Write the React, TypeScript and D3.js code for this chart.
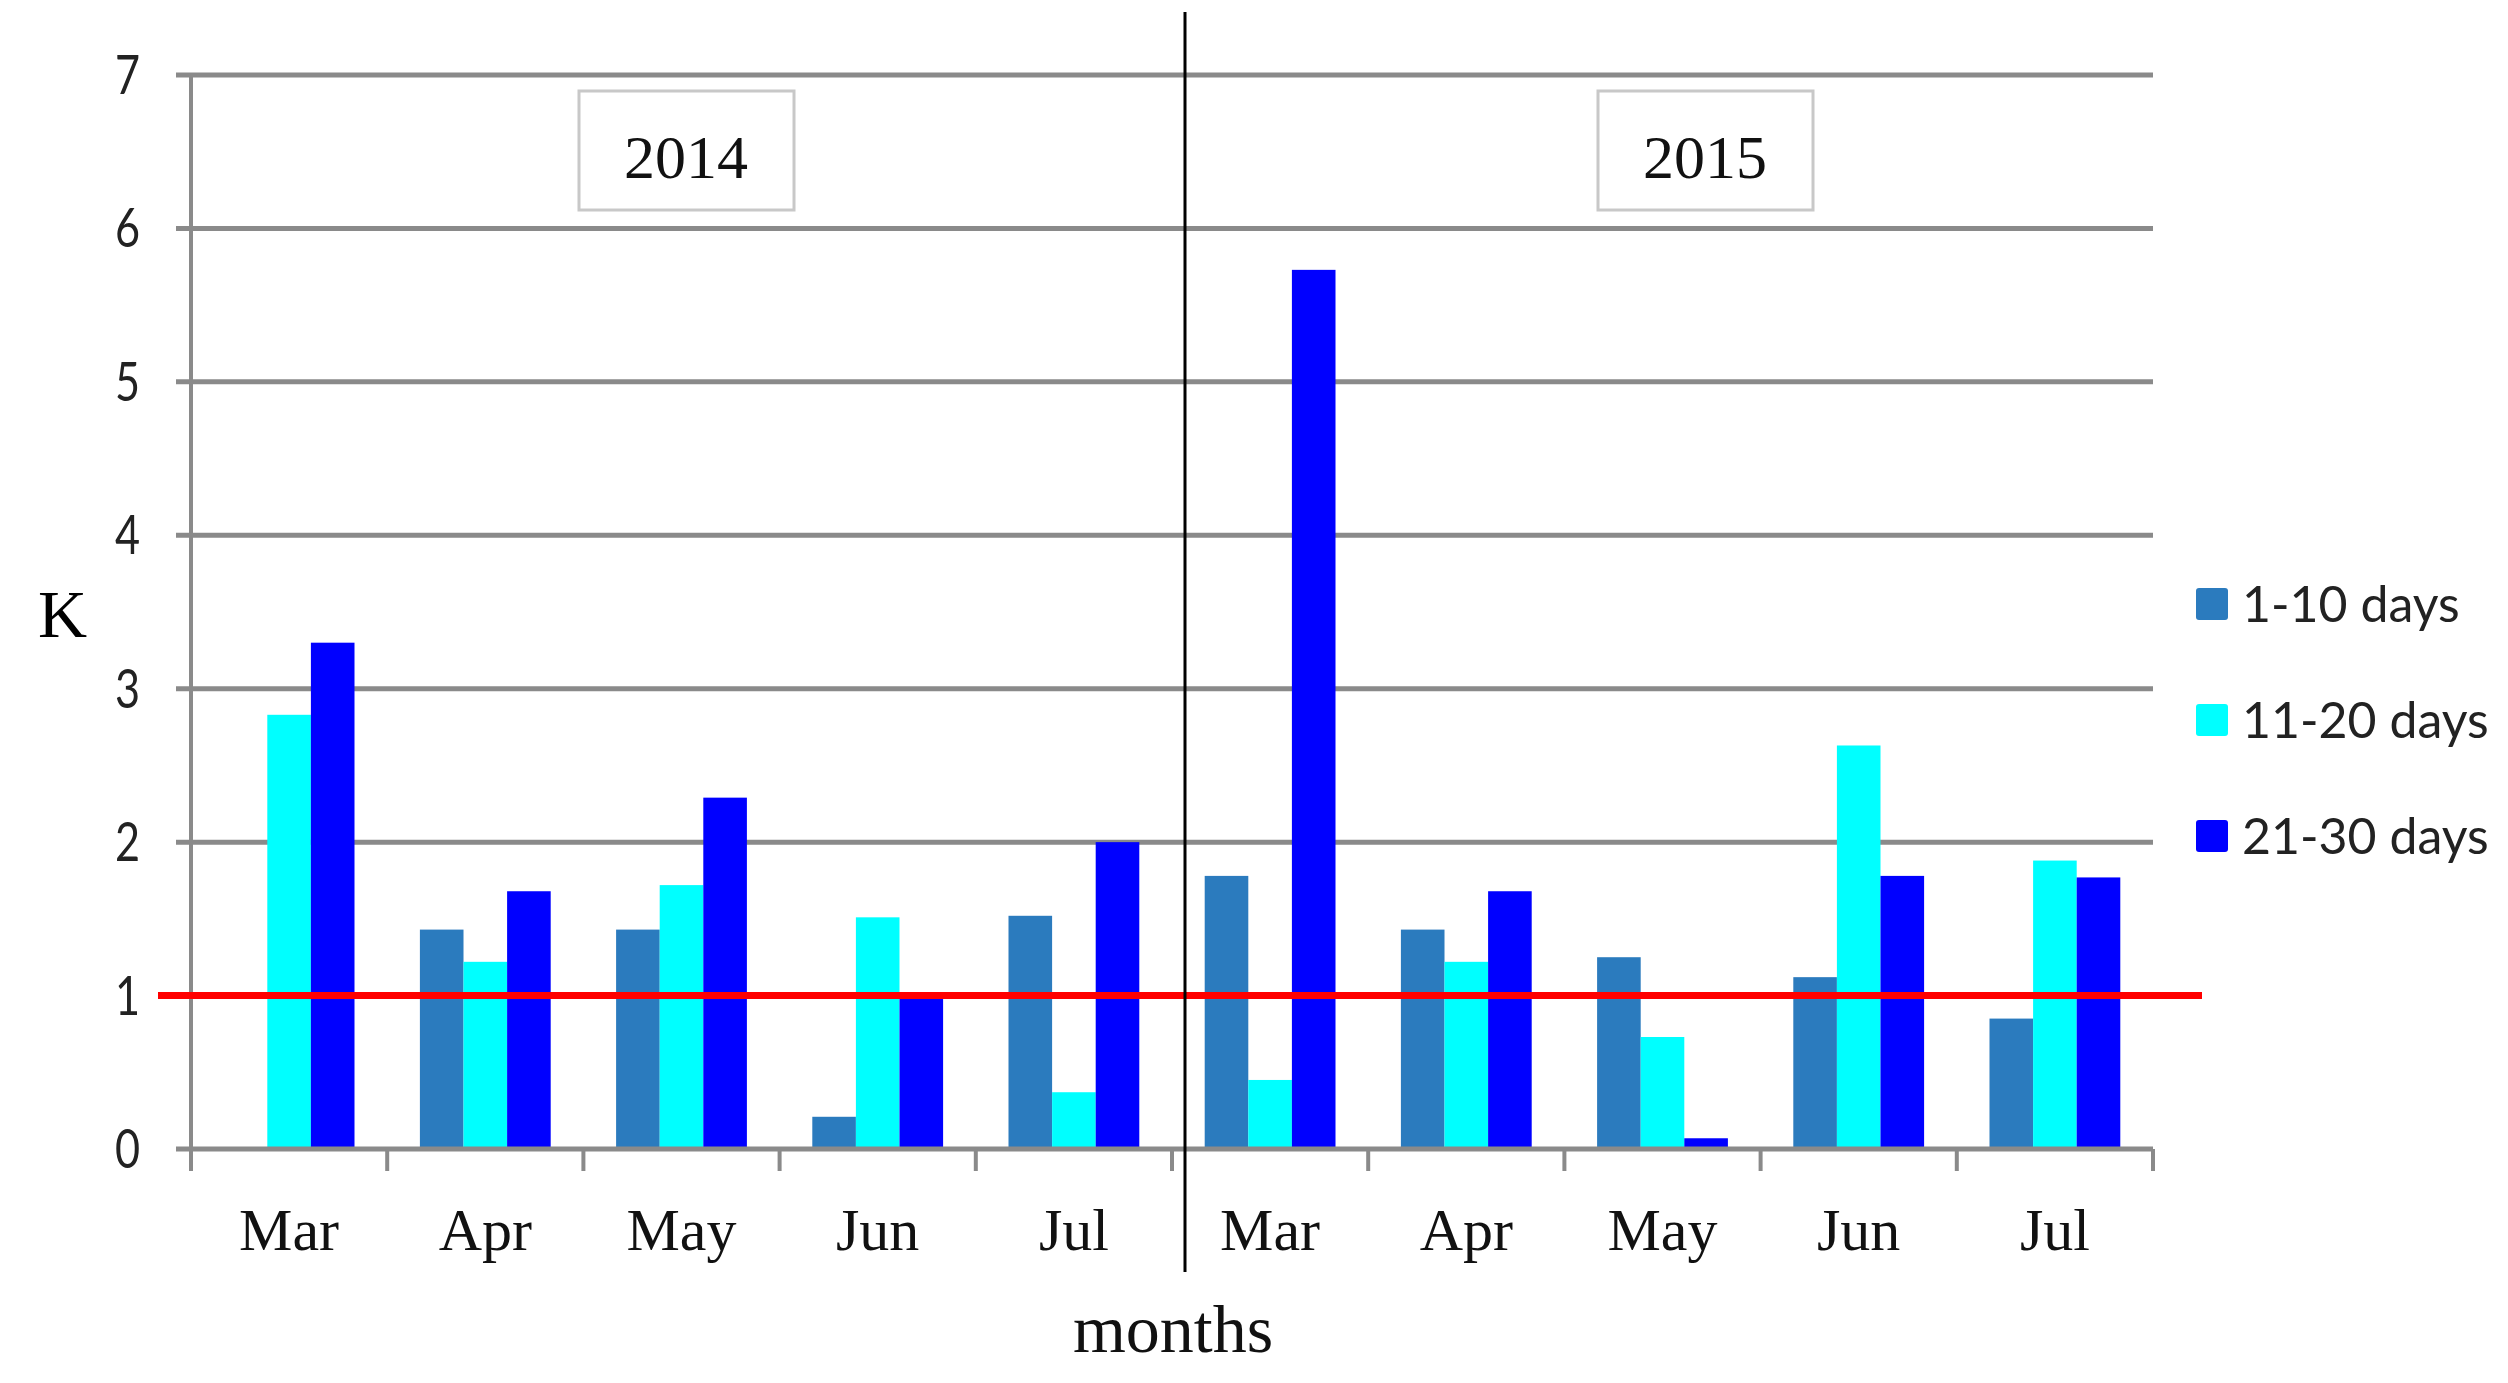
import React, { useEffect, useRef } from 'react';
import * as d3 from 'd3';

const years = ['2014', '2015'];
const months = ['Mar', 'Apr', 'May', 'Jun', 'Jul'];
const seriesNames = ['1-10 days', '11-20 days', '21-30 days'];
const seriesColors = ['#2B7BBE', '#00FFFF', '#0000FF'];
// one value per month, 2014 Mar..Jul then 2015 Mar..Jul
const days1to10 = [0, 1.43, 1.43, 0.21, 1.52, 1.78, 1.43, 1.25, 1.12, 0.85];
const days11to20 = [2.83, 1.22, 1.72, 1.51, 0.37, 0.45, 1.22, 0.73, 2.63, 1.88];
const days21to30 = [3.3, 1.68, 2.29, 0.98, 2.0, 5.73, 1.68, 0.07, 1.78, 1.77];
const yTicks = [0, 1, 2, 3, 4, 5, 6, 7];
const threshold = 1;

const W = 2508;
const H = 1383;
const left = 191;
const right = 2153;
const top = 75;
const bottom = 1149;
const serif = '"Liberation Serif", "Times New Roman", serif';
const sans = 'Lato, "Open Sans", sans-serif';
const grey = '#8a8a8a';

const App = () => {
  const ref = useRef<SVGSVGElement>(null);

  useEffect(() => {
    const svg = d3.select(ref.current);
    svg.selectAll('*').remove();

    const categories = years.flatMap(yr => months.map(m => `${yr}-${m}`));
    const values = [days1to10, days11to20, days21to30];

    const x0 = d3
      .scaleBand<number>()
      .domain(d3.range(categories.length))
      .range([left, right])
      .paddingInner(1 / 3)
      .paddingOuter(1 / 6);
    const x1 = d3
      .scaleBand<number>()
      .domain(d3.range(seriesNames.length))
      .range([0, x0.bandwidth()]);
    const y = d3.scaleLinear().domain([0, 7]).range([bottom, top]);

    // grid lines
    svg
      .append('g')
      .selectAll('line')
      .data(yTicks.filter(t => t > 0))
      .enter()
      .append('line')
      .attr('x1', left - 15)
      .attr('x2', right)
      .attr('y1', d => y(d))
      .attr('y2', d => y(d))
      .attr('stroke', grey)
      .attr('stroke-width', 5);

    // y axis
    svg
      .append('line')
      .attr('x1', left)
      .attr('x2', left)
      .attr('y1', y(7))
      .attr('y2', y(0) + 20)
      .attr('stroke', grey)
      .attr('stroke-width', 4);

    svg
      .append('g')
      .selectAll('text')
      .data(yTicks)
      .enter()
      .append('text')
      .text(d => d)
      .attr('transform', d => `translate(140,${y(d) + 19}) scale(0.8,1)`)
      .attr('text-anchor', 'end')
      .attr('font-family', sans)
      .attr('font-size', 54)
      .attr('fill', '#222');

    svg
      .append('text')
      .text('K')
      .attr('x', 38)
      .attr('y', 637)
      .attr('font-family', serif)
      .attr('font-size', 68)
      .attr('fill', '#000');

    // bars
    const groups = svg
      .append('g')
      .selectAll('g')
      .data(categories)
      .enter()
      .append('g')
      .attr('transform', (_, i) => `translate(${x0(i)},0)`);

    groups
      .selectAll('rect')
      .data((_, i) => values.map((s, k) => ({ k, v: s[i] })))
      .enter()
      .append('rect')
      .attr('x', d => x1(d.k) as number)
      .attr('width', x1.bandwidth())
      .attr('y', d => y(d.v))
      .attr('height', d => y(0) - y(d.v))
      .attr('fill', d => seriesColors[d.k]);

    // x axis baseline and ticks
    svg
      .append('line')
      .attr('x1', left - 15)
      .attr('x2', right)
      .attr('y1', y(0))
      .attr('y2', y(0))
      .attr('stroke', grey)
      .attr('stroke-width', 5);

    svg
      .append('g')
      .selectAll('line')
      .data(d3.range(categories.length + 1))
      .enter()
      .append('line')
      .attr('x1', i => left + i * x0.step())
      .attr('x2', i => left + i * x0.step())
      .attr('y1', y(0))
      .attr('y2', y(0) + 22)
      .attr('stroke', grey)
      .attr('stroke-width', 4);

    svg
      .append('g')
      .selectAll('text')
      .data(categories)
      .enter()
      .append('text')
      .text(d => d.split('-')[1])
      .attr('x', (_, i) => (x0(i) as number) + x0.bandwidth() / 2)
      .attr('y', 1250)
      .attr('text-anchor', 'middle')
      .attr('font-family', serif)
      .attr('font-size', 60)
      .attr('fill', '#111');

    svg
      .append('text')
      .text('months')
      .attr('x', 1173)
      .attr('y', 1352)
      .attr('text-anchor', 'middle')
      .attr('font-family', serif)
      .attr('font-size', 68)
      .attr('fill', '#111');

    // threshold line
    svg
      .append('line')
      .attr('x1', 158)
      .attr('x2', 2202)
      .attr('y1', y(threshold))
      .attr('y2', y(threshold))
      .attr('stroke', '#ff0000')
      .attr('stroke-width', 7);

    // divider between years
    svg
      .append('line')
      .attr('x1', 1185)
      .attr('x2', 1185)
      .attr('y1', 12)
      .attr('y2', 1272)
      .attr('stroke', '#000')
      .attr('stroke-width', 3);

    // year boxes
    const boxX = [579, 1598];
    const yearBoxes = svg
      .append('g')
      .selectAll('g')
      .data(years)
      .enter()
      .append('g')
      .attr('transform', (_, i) => `translate(${boxX[i]},91)`);
    yearBoxes
      .append('rect')
      .attr('width', 215)
      .attr('height', 119)
      .attr('fill', '#fff')
      .attr('stroke', '#c8c8c8')
      .attr('stroke-width', 3);
    yearBoxes
      .append('text')
      .text(d => d)
      .attr('x', 107)
      .attr('y', 87)
      .attr('text-anchor', 'middle')
      .attr('font-family', serif)
      .attr('font-size', 62)
      .attr('fill', '#111');

    // legend
    const legend = svg
      .append('g')
      .selectAll('g')
      .data(seriesNames)
      .enter()
      .append('g')
      .attr('transform', (_, i) => `translate(2196,${604 + i * 116})`);
    legend
      .append('rect')
      .attr('y', -16)
      .attr('width', 32)
      .attr('height', 32)
      .attr('rx', 3)
      .attr('fill', (_, i) => seriesColors[i]);
    legend
      .append('text')
      .text(d => d)
      .attr('x', 46)
      .attr('y', 18)
      .attr('font-family', sans)
      .attr('font-size', 50)
      .attr('fill', '#222');
  }, []);

  return (
    <svg
      ref={ref}
      width={W}
      height={H}
      style={{ position: 'absolute', left: 0, top: 0, display: 'block', background: '#fff' }}
    />
  );
};

export default App;
